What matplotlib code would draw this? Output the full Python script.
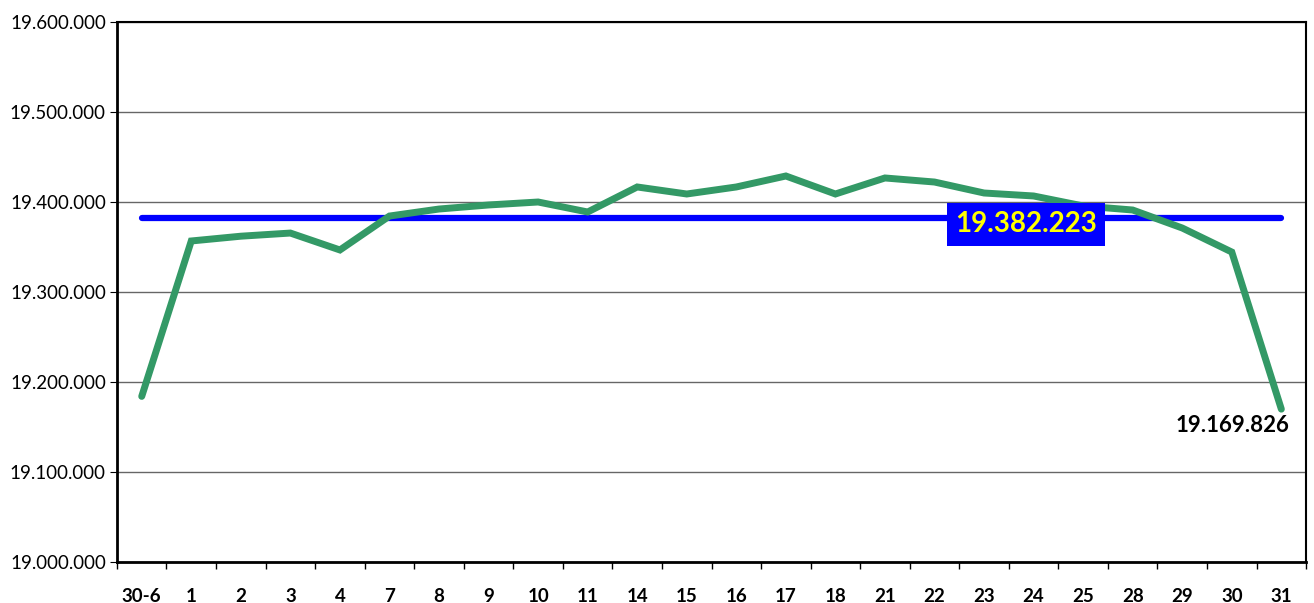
import numpy as np
import matplotlib
matplotlib.use("Agg")
import matplotlib.pyplot as plt
from matplotlib.ticker import FuncFormatter

# Daily values
days = ["30-6", "1", "2", "3", "4", "7", "8", "9", "10", "11", "14", "15",
        "16", "17", "18", "21", "22", "23", "24", "25", "28", "29", "30", "31"]
values = [19184000, 19356700, 19362000, 19365500, 19346700, 19384400,
          19392200, 19396700, 19400000, 19388900, 19416700, 19408900,
          19416700, 19428900, 19408900, 19426700, 19422200, 19410000,
          19406700, 19395600, 19391100, 19371100, 19344400, 19169826]
mean_value = 19382223

plt.rcParams['font.family'] = ['Lato', 'DejaVu Sans']

fig = plt.figure(figsize=(13.14, 6.03), dpi=100)
ax = fig.add_axes([0.089, 0.068, 0.905, 0.8955])

x = np.arange(len(days))
ax.plot(x, values, color="#339966", lw=5, solid_capstyle="round", solid_joinstyle="miter", zorder=3)
ax.plot([x[0], x[-1]], [mean_value, mean_value], color="#0000FF", lw=4.5,
        solid_capstyle="round", zorder=2)

def fmt(v):
    return f"{v:,.0f}".replace(",", ".")

ax.text(17.85, mean_value - 7000, fmt(mean_value), color="#FFFF00", fontsize=20,
        fontweight="bold", ha="center", va="center", zorder=4,
        bbox=dict(boxstyle="square,pad=0.3", fc="#0000FF", ec="none"))
ax.text(x[-1] + 0.17, values[-1] - 7000, fmt(values[-1]), color="black", fontsize=16,
        fontweight="bold", ha="right", va="top", zorder=4)

ax.set_xlim(-0.5, len(days) - 0.5)
ax.set_ylim(19000000, 19600000)
ax.set_yticks(np.arange(19000000, 19600001, 100000))
ax.yaxis.set_major_formatter(FuncFormatter(lambda v, p: fmt(v)))
ax.grid(axis="y", color="#666666", lw=1)
ax.set_axisbelow(True)

ax.set_xticks(np.arange(-0.5, len(days), 1.0))
ax.set_xticklabels([])
ax.set_xticks(x, minor=True)
ax.set_xticklabels(days, minor=True, fontsize=13.5, fontweight="bold")
ax.tick_params(axis="x", which="major", length=5, width=1, direction="out")
ax.tick_params(axis="x", which="minor", length=0, pad=19)
ax.tick_params(axis="y", length=5, labelsize=13.5, pad=3)

for side in ["left", "bottom"]:
    ax.spines[side].set_linewidth(2)
for side in ["top", "right"]:
    ax.spines[side].set_linewidth(1.5)

fig.savefig("out.png", dpi=100)
